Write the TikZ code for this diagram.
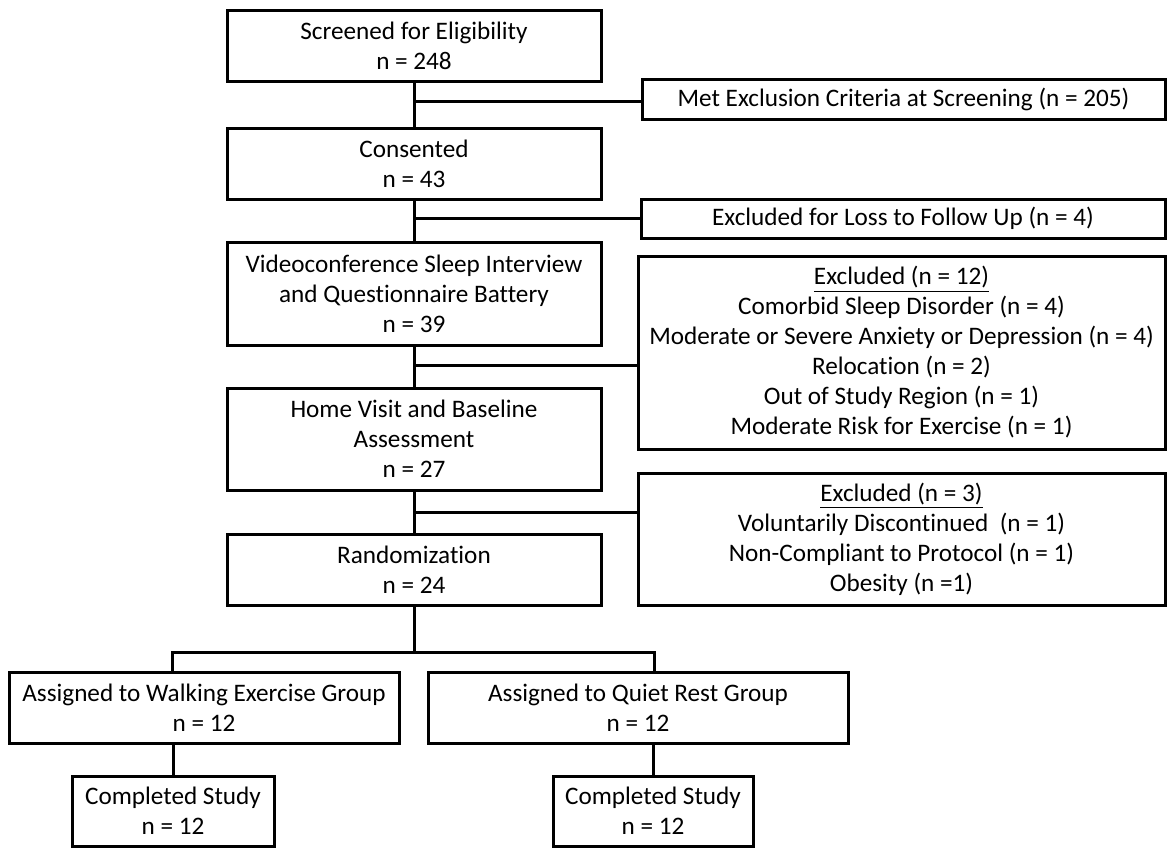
\documentclass[tikz,border=0pt]{standalone}
\usepackage{fontspec}
\setmainfont[Ligatures={NoCommon}]{Carlito}
\begin{document}
\begin{tikzpicture}[x=0.5pt,y=-0.5pt,
  box/.style={draw=black,line width=1.5pt,inner sep=0pt,align=center,
    font=\fontsize{12.6}{15}\selectfont},
  conn/.style={draw=black,line width=1.5pt}]
\useasboundingbox (0,0) rectangle (1167,848);
% main column
\node[box,minimum width=187pt,minimum height=35.5pt] (b1) at (414,45.5) {Screened for Eligibility\\n = 248};
\node[box,minimum width=187pt,minimum height=35.5pt] (b2) at (414,163.5) {Consented\\n = 43};
\node[box,minimum width=187pt,minimum height=51.5pt] (b3) at (414,293.5) {Videoconference Sleep Interview\\and Questionnaire Battery\\n = 39};
\node[box,minimum width=187pt,minimum height=51pt] (b4) at (414,439) {Home Visit and Baseline\\Assessment\\n = 27};
\node[box,minimum width=187pt,minimum height=35.5pt] (b5) at (414,569.5) {Randomization\\n = 24};
% exclusion boxes
\node[box,minimum width=261.5pt,minimum height=20pt] (r1) at (903.5,99) {Met Exclusion Criteria at Screening (n = 205)};
\node[box,minimum width=262pt,minimum height=19.5pt] (r2) at (903,218.5) {Excluded for Loss to Follow Up (n = 4)};
\node[box,minimum width=263.5pt,minimum height=96.5pt] (r3) at (901.5,352.5) {\underline{Excluded (n = 12)}\\Comorbid Sleep Disorder (n = 4)\\Moderate or Severe Anxiety or Depression (n = 4)\\Relocation (n = 2)\\Out of Study Region (n = 1)\\Moderate Risk for Exercise (n = 1)};
\node[box,minimum width=263.5pt,minimum height=66pt] (r4) at (901.5,539) {\underline{Excluded (n = 3)}\\Voluntarily Discontinued\ \ (n = 1)\\Non-Compliant to Protocol (n = 1)\\Obesity (n =1)};
% groups
\node[box,minimum width=195pt,minimum height=35.5pt] (g1) at (204,707.5) {Assigned to Walking Exercise Group\\n = 12};
\node[box,minimum width=210pt,minimum height=35.5pt] (g2) at (638,707.5) {Assigned to Quiet Rest Group\\n = 12};
\node[box,minimum width=101pt,minimum height=35pt] (c1) at (173,811) {Completed Study\\n = 12};
\node[box,minimum width=100pt,minimum height=35pt] (c2) at (653,811) {Completed Study\\n = 12};
% junctions
\coordinate (j1) at (414,101);
\coordinate (j2) at (414,218);
\coordinate (j3) at (414,365);
\coordinate (j4) at (414,512);
\coordinate (sL) at (172,652);
\coordinate (sR) at (654,652);
% connectors
\draw[conn] (b1.south) -- (b2.north);
\draw[conn] (b2.south) -- (b3.north);
\draw[conn] (b3.south) -- (b4.north);
\draw[conn] (b4.south) -- (b5.north);
\draw[conn] (j1) -- (j1 -| r1.west);
\draw[conn] (j2) -- (j2 -| r2.west);
\draw[conn] (j3) -- (j3 -| r3.west);
\draw[conn] (j4) -- (j4 -| r4.west);
\draw[conn] (b5.south) -- (b5.south |- sL);
\draw[conn] (sL |- g1.north) -- (sL) -- (sR) -- (sR |- g2.north);
\draw[conn] (g1.south -| c1.north) -- (c1.north);
\draw[conn] (g2.south -| c2.north) -- (c2.north);
\end{tikzpicture}
\end{document}
